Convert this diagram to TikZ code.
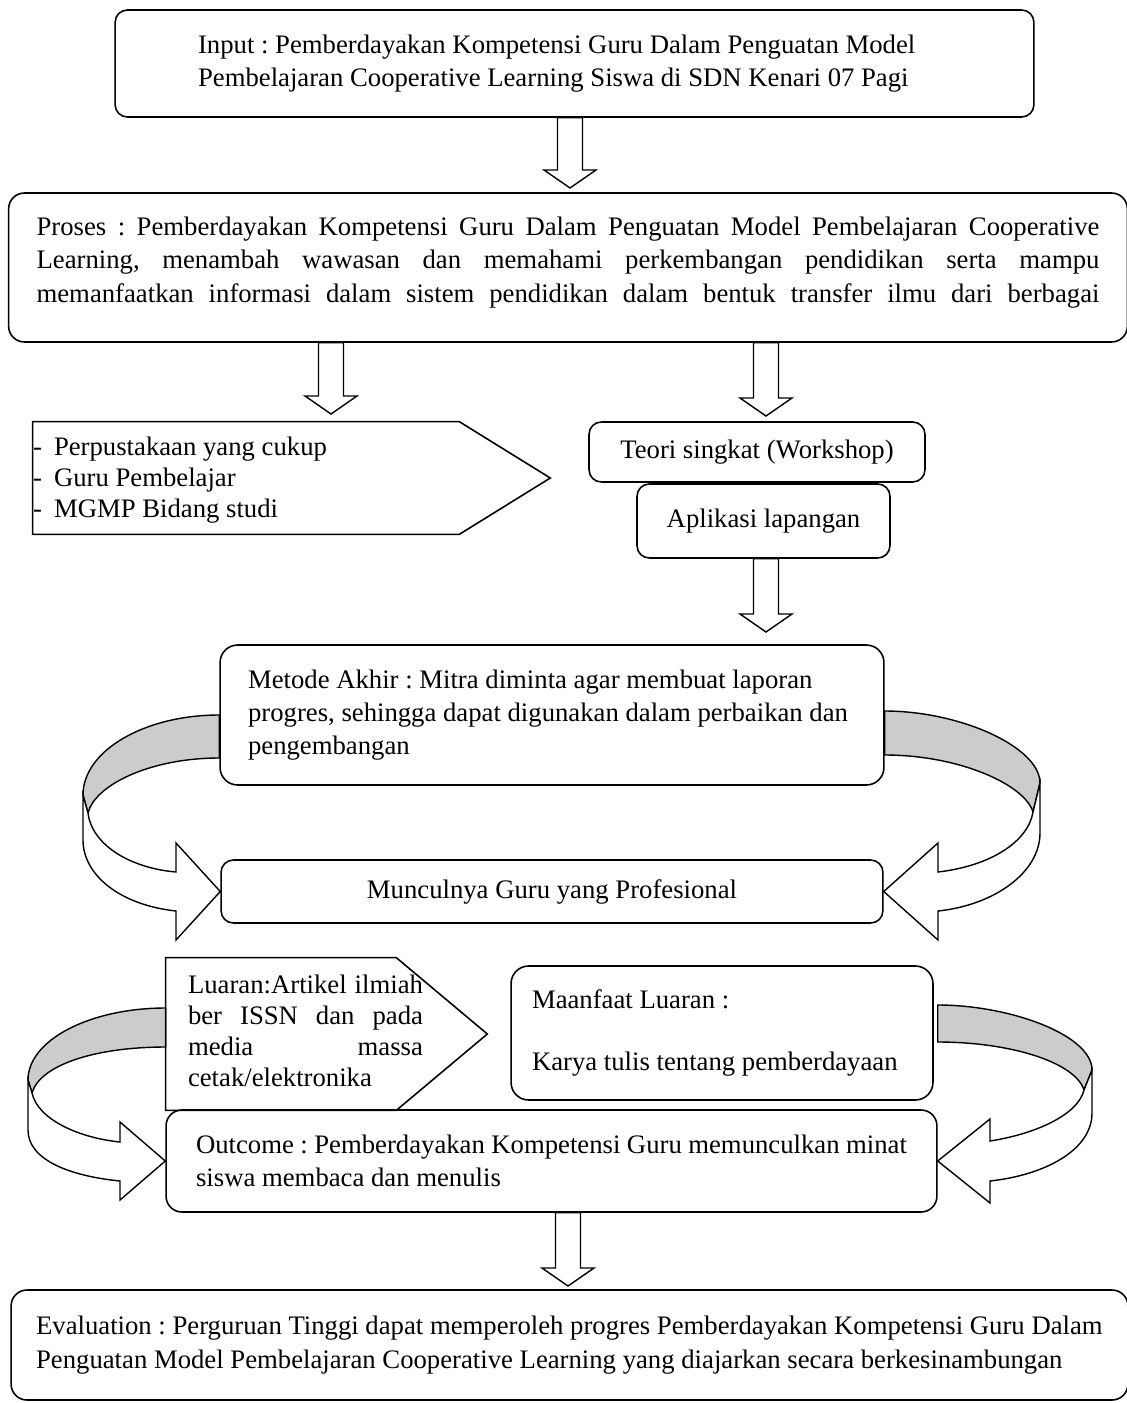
\documentclass[tikz,border=0pt]{standalone}
\usepackage{fontspec}
\setmainfont{Liberation Serif}
\usetikzlibrary{calc}
\frenchspacing
\begin{document}
\begin{tikzpicture}[x=0.02cm,y=-0.02cm,font=\fontsize{15.2}{19}\selectfont,
    box/.style = {draw, rounded corners=7pt, line width=0.9pt, inner sep=0pt},
    txt/.style = {inner sep=0pt, align=justify},
    ribbonback/.style = {draw, line width=0.8pt, fill=black!20},
    ribbonfront/.style = {draw, line width=0.8pt, fill=white},
    fatarrow/.style = {draw, line width=0.8pt, fill=white, to path={let \p1=(\tikztostart), \p2=(\tikztotarget) in (\x1-0.25cm,\y1) -- (\x1-0.25cm,\y2+0.36cm) -- (\x1-0.52cm,\y2+0.36cm) -- (\x1,\y2) -- (\x1+0.52cm,\y2+0.36cm) -- (\x1+0.25cm,\y2+0.36cm) -- (\x1+0.25cm,\y1) -- cycle}}]
    \useasboundingbox (0,0) rectangle (1126,1403);

    \node[box, align=justify, minimum width=18.38cm, minimum height=2.14cm, text width=15.06cm] (input) at (574.5,63.5) {Input : Pemberdayakan Kompetensi Guru Dalam Penguatan Model\\Pembelajaran Cooperative Learning Siswa di SDN Kenari 07 Pagi};
    \node[box, align=justify, rounded corners=9pt, minimum width=22.38cm, minimum height=2.98cm, text width=21.26cm] (proses) at (568,267.5) {Proses : Pemberdayakan Kompetensi Guru Dalam Penguatan Model Pembelajaran Cooperative\linebreak Learning, menambah wawasan dan memahami perkembangan pendidikan serta mampu\linebreak \makebox[21.26cm][s]{memanfaatkan informasi dalam sistem pendidikan dalam bentuk transfer ilmu dari berbagai}\rule[-9pt]{0pt}{0pt}};
    \node[txt, minimum height=2.24cm, text width=8.52cm, font=\fontsize{15.2}{17.6}\selectfont] (sarana) at (246,478) {\rule{0pt}{13pt}\makebox[0.42cm][l]{-}Perpustakaan yang cukup\\\makebox[0.42cm][l]{-}Guru Pembelajar\\\makebox[0.42cm][l]{-}MGMP Bidang studi};
    \draw[line width=0.9pt] (sarana.north west) -- (sarana.north east) -- ([xshift=1.82cm]sarana.east) -- (sarana.south east) -- (sarana.south west) -- cycle;
    \node[box, minimum width=6.72cm, minimum height=1.2cm] (teori) at (757,452) {Teori singkat (Workshop)};
    \node[box, minimum width=5.06cm, minimum height=1.48cm] (aplikasi) at (763.5,521) {Aplikasi lapangan};
    \node[box, align=justify, rounded corners=10pt, minimum width=13.28cm, minimum height=2.8cm, text width=12.16cm] (metode) at (552,715) {Metode Akhir : Mitra diminta agar membuat laporan\\progres, sehingga dapat digunakan dalam perbaikan dan\\pengembangan};
    \node[box, minimum width=13.24cm, minimum height=1.26cm] (muncul) at (552,891.5) {Munculnya Guru yang Profesional};
    \node[minimum width=4.6cm, minimum height=3.04cm, inner sep=0pt] (luaranbox) at (281,1034) {};
    \draw[line width=0.9pt] (luaranbox.north west) -- (luaranbox.north east) -- ([xshift=1.82cm]luaranbox.east) -- (luaranbox.south east) -- (luaranbox.south west) -- cycle;
    \node[txt, text width=4.7cm, font=\fontsize{15.2}{17.6}\selectfont] (luaran) at (305.5,1031) {Luaran:Artikel ilmiah\linebreak ber ISSN dan pada\linebreak media massa\linebreak cetak/elektronika};
    \node[box, align=justify, rounded corners=10pt, minimum width=8.44cm, minimum height=2.68cm, text width=7.6cm, font=\fontsize{15.2}{17.9}\selectfont] (manfaat) at (722,1033) {Maanfaat Luaran :\\[17.9pt]Karya tulis tentang pemberdayaan};
    \node[box, align=justify, rounded corners=9pt, minimum width=15.42cm, minimum height=2.04cm, text width=14.22cm] (outcome) at (551.5,1161) {Outcome : Pemberdayakan Kompetensi Guru memunculkan minat\\siswa membaca dan menulis};
    \node[box, align=justify, rounded corners=9pt, minimum width=22.34cm, minimum height=2.2cm, text width=21.34cm] (eval) at (569.5,1345) {Evaluation : Perguruan Tinggi dapat memperoleh progres Pemberdayakan Kompetensi Guru Dalam\\Penguatan Model Pembelajaran Cooperative Learning yang diajarkan secara berkesinambungan};

    \coordinate (a1) at (570,188);
    \coordinate (a2) at (331,414);
    \coordinate (a3) at (766,416);
    \coordinate (a4) at (766,632);
    \coordinate (a5) at (568,1286);
    \draw[fatarrow] (input.south -| a1) to (a1);
    \draw[fatarrow] (proses.south -| a2) to (a2);
    \draw[fatarrow] (proses.south -| a3) to (a3);
    \draw[fatarrow] (aplikasi.south -| a4) to (a4);
    \draw[fatarrow] (outcome.south -| a5) to (a5);

    \draw[ribbonback] (metode.west |- 0,715) .. controls (144,715) and (83,751) .. (83,795) -- (88,813) .. controls (95,785) and (150,758) .. (metode.west |- 0,758) -- cycle;
    \draw[ribbonfront] (88,813) .. controls (92,845) and (130,868) .. (176,872) -- (176,843) -- (muncul.west) -- (176,940) -- (176,911) .. controls (120,905) and (83,875) .. (83,840) -- (83,795) -- cycle;
    \draw[ribbonback] (metode.east |- 0,711) .. controls (960,711) and (1040,747) .. (1040,783) -- (1033,812) .. controls (1025,785) and (960,755) .. (metode.east |- 0,755) -- cycle;
    \draw[ribbonfront] (1033,812) .. controls (1028,842) and (990,866) .. (938,872) -- (938,843) -- (muncul.east) -- (938,940) -- (938,911) .. controls (995,905) and (1040,872) .. (1040,833) -- (1040,783) -- cycle;
    \draw[ribbonback] (luaranbox.west |- 0,1008) .. controls (90,1008) and (28,1040) .. (28,1080) -- (32,1093) .. controls (40,1065) and (95,1047) .. (luaranbox.west |- 0,1047) -- cycle;
    \draw[ribbonfront] (32,1093) .. controls (38,1120) and (80,1138) .. (120,1142) -- (120,1122) -- (outcome.west) -- (120,1200) -- (120,1181) .. controls (70,1176) and (28,1160) .. (28,1130) -- (28,1080) -- cycle;
    \draw[ribbonback] (outcome.east |- 0,1005) .. controls (1010,1005) and (1092,1035) .. (1092,1070) -- (1084,1090) .. controls (1075,1062) and (1010,1042) .. (outcome.east |- 0,1042) -- cycle;
    \draw[ribbonfront] (1084,1090) .. controls (1078,1115) and (1035,1134) .. (990,1141) -- (990,1119) -- (outcome.east) -- (990,1203) -- (990,1181) .. controls (1045,1175) and (1092,1150) .. (1092,1113) -- (1092,1070) -- cycle;
\end{tikzpicture}
\end{document}
